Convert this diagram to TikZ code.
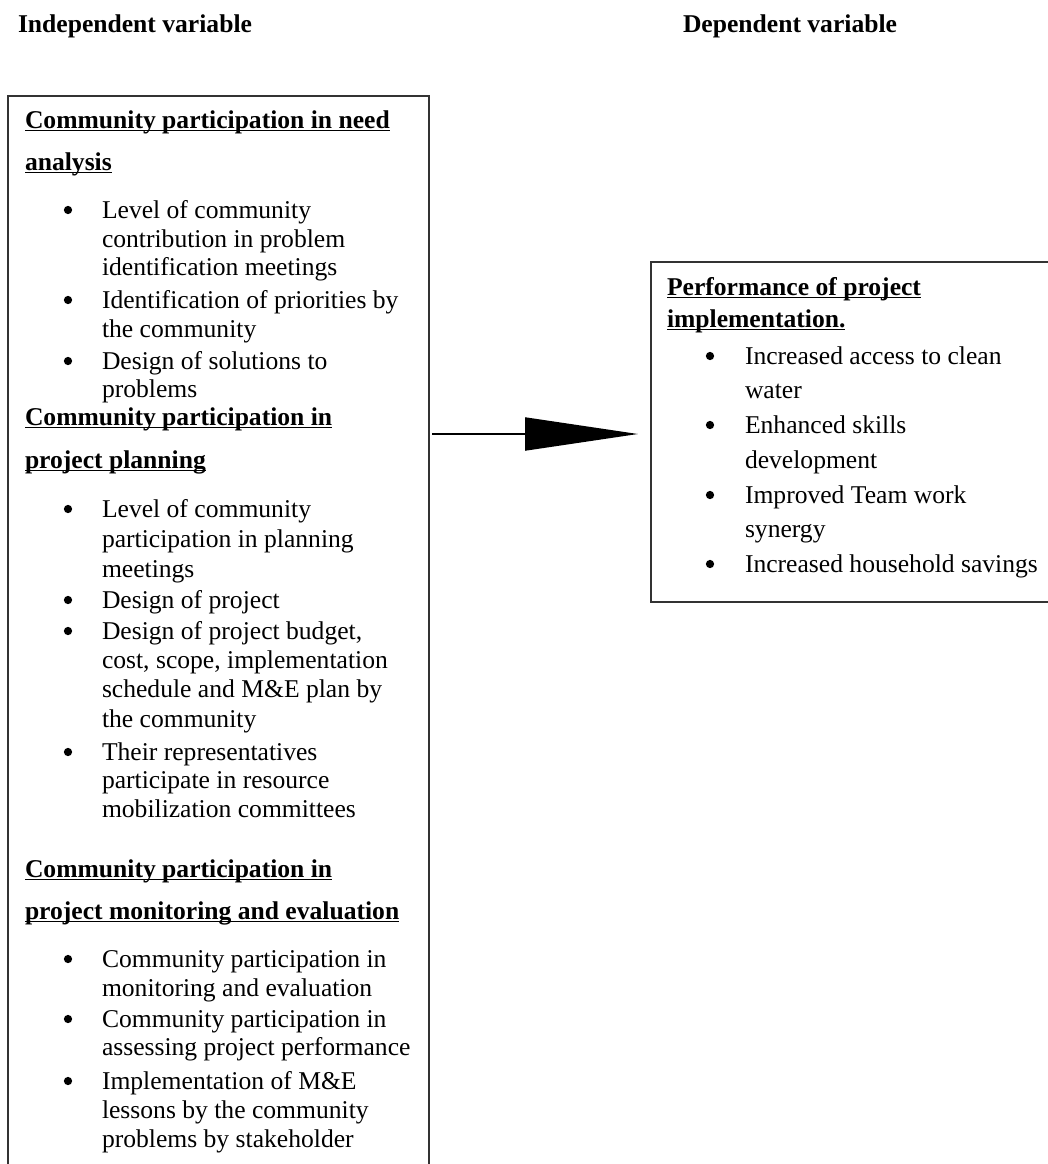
\documentclass[tikz,border=0pt]{standalone}
\usepackage{fontspec}
\setmainfont{Liberation Serif}
\usetikzlibrary{arrows.meta,fit}
\newcommand\ulhead[1]{\setbox0\hbox{#1}\rlap{\rule[-2.4pt]{\wd0}{1.1pt}}\box0}
\begin{document}
\begin{tikzpicture}[x=0.75pt,y=-0.75pt,
  font=\fontsize{19.2}{22}\selectfont,
  txt/.style={anchor=base west, inner sep=0pt, outer sep=0pt},
  hd/.style={txt, font=\fontsize{19.2}{22}\selectfont\bfseries},
  bul/.style={circle, fill=black, inner sep=0pt, outer sep=0pt, minimum size=6.2pt, yshift=6pt},
  boxframe/.style={draw=black!80, line width=0.8pt, inner sep=0pt, outer sep=0pt},
  mainarrow/.style={line width=1.5pt, -{Triangle[length=84.75pt, width=24.75pt]}}]
\useasboundingbox (0,0) rectangle (1048,1164);

% headers
\node[hd] (hindep) at (18,32) {Independent variable};
\node[hd] (hdep) at (683,32) {Dependent variable};

% boxes
\node[boxframe, fit={(8,96) (429,1190)}] (indep) {};
\node[boxframe, fit={(651,262) (1060,602)}] (dep) {};

% arrow
\coordinate (as) at (432,434);
\coordinate (ae) at (638,434);
\draw[mainarrow] (as) -- (ae);

% ---- left box, group 1
\node[hd] (g1h1) at (25,128) {\ulhead{Community participation in need}};
\node[hd] (g1h2) at (25,170) {\ulhead{analysis}};
\node[bul] (g1b1) at (68,218) {};
\node[txt] (g1t1) at (102,218) {Level of community};
\node[txt] (g1t2) at (102,247) {contribution in problem};
\node[txt] (g1t3) at (102,275) {identification meetings};
\node[bul] (g1b2) at (68,308) {};
\node[txt] (g1t4) at (102,308) {Identification of priorities by};
\node[txt] (g1t5) at (102,337) {the community};
\node[bul] (g1b3) at (68,369) {};
\node[txt] (g1t6) at (102,369) {Design of solutions to};
\node[txt] (g1t7) at (102,397) {problems};

% ---- left box, group 2
\node[hd] (g2h1) at (25,425) {\ulhead{Community participation in}};
\node[hd] (g2h2) at (25,468) {\ulhead{project planning}};
\node[bul] (g2b1) at (68,517) {};
\node[txt] (g2t1) at (102,517) {Level of community};
\node[txt] (g2t2) at (102,547) {participation in planning};
\node[txt] (g2t3) at (102,577) {meetings};
\node[bul] (g2b2) at (68,608) {};
\node[txt] (g2t4) at (102,608) {Design of project};
\node[bul] (g2b3) at (68,639) {};
\node[txt] (g2t5) at (102,639) {Design of project budget,};
\node[txt] (g2t6) at (102,668) {cost, scope, implementation};
\node[txt] (g2t7) at (102,697) {schedule and M\&E plan by};
\node[txt] (g2t8) at (102,727) {the community};
\node[bul] (g2b4) at (68,760) {};
\node[txt] (g2t9) at (102,760) {Their representatives};
\node[txt] (g2t10) at (102,788) {participate in resource};
\node[txt] (g2t11) at (102,817) {mobilization committees};

% ---- left box, group 3
\node[hd] (g3h1) at (25,877) {\ulhead{Community participation in}};
\node[hd] (g3h2) at (25,919) {\ulhead{project monitoring and evaluation}};
\node[bul] (g3b1) at (68,967) {};
\node[txt] (g3t1) at (102,967) {Community participation in};
\node[txt] (g3t2) at (102,996) {monitoring and evaluation};
\node[bul] (g3b2) at (68,1027) {};
\node[txt] (g3t3) at (102,1027) {Community participation in};
\node[txt] (g3t4) at (102,1055) {assessing project performance};
\node[bul] (g3b3) at (68,1089) {};
\node[txt] (g3t5) at (102,1089) {Implementation of M\&E};
\node[txt] (g3t6) at (102,1118) {lessons by the community};
\node[txt] (g3t7) at (102,1147) {problems by stakeholder};

% ---- right box
\node[hd] (r1) at (667,295) {\ulhead{Performance of project}};
\node[hd] (r2) at (667,327) {\ulhead{implementation.}};
\node[bul] (rb1) at (710,364) {};
\node[txt] (rt1) at (745,364) {Increased access to clean};
\node[txt] (rt2) at (745,398) {water};
\node[bul] (rb2) at (710,433) {};
\node[txt] (rt3) at (745,433) {Enhanced skills};
\node[txt] (rt4) at (745,468) {development};
\node[bul] (rb3) at (710,503) {};
\node[txt] (rt5) at (745,503) {Improved Team work};
\node[txt] (rt6) at (745,537) {synergy};
\node[bul] (rb4) at (710,572) {};
\node[txt] (rt7) at (745,572) {Increased household savings};
\end{tikzpicture}
\end{document}
